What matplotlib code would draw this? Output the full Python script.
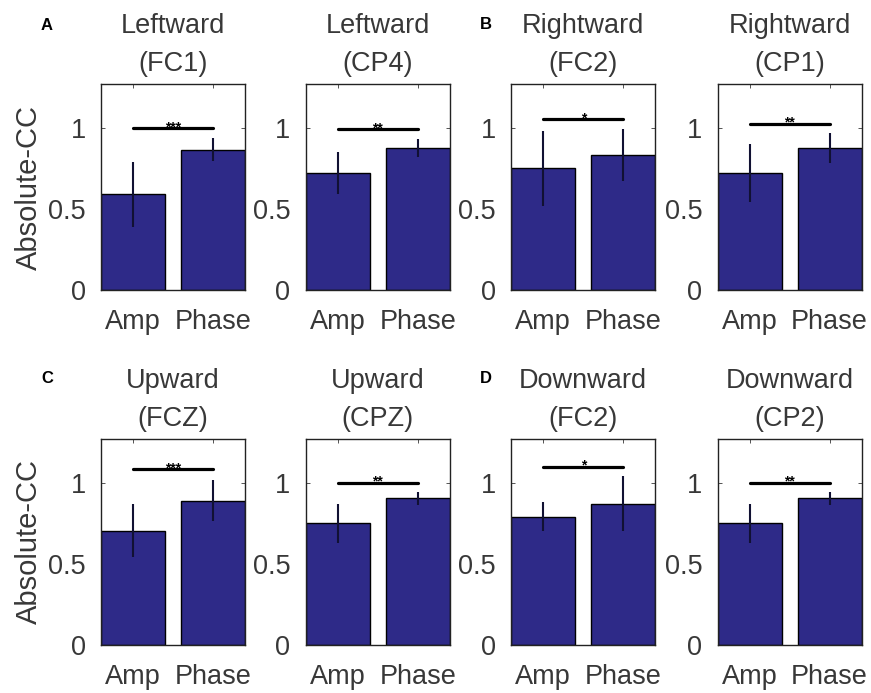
import numpy as np
import matplotlib
matplotlib.use('Agg')
import matplotlib.pyplot as plt

plt.rcParams['font.family'] = ['Liberation Sans', 'DejaVu Sans']

# --- data ---
titles = ['Leftward\n(FC1)', 'Leftward\n(CP4)', 'Rightward\n(FC2)', 'Rightward\n(CP1)',
          'Upward\n(FCZ)', 'Upward\n(CPZ)', 'Downward\n(FC2)', 'Downward\n(CP2)']
categories = ['Amp', 'Phase']
amp_mean = [0.59, 0.72, 0.75, 0.72, 0.705, 0.75, 0.79, 0.75]
amp_err = [0.20, 0.13, 0.23, 0.18, 0.165, 0.12, 0.09, 0.12]
phase_mean = [0.865, 0.875, 0.83, 0.875, 0.89, 0.905, 0.87, 0.905]
phase_err = [0.07, 0.055, 0.16, 0.09, 0.125, 0.04, 0.17, 0.04]
sig_height = [1.0, 0.99, 1.055, 1.025, 1.085, 1.0, 1.10, 1.0]
sig_stars = ['***', '**', '*', '**', '***', '**', '*', '**']
panel_letters = ['A', 'B', 'C', 'D']

bar_color = '#2e2a88'
text_color = '#383838'

fig = plt.figure(figsize=(8.71, 6.93), dpi=100)

lefts = [0.116, 0.351, 0.587, 0.824]
bottoms = [0.5815, 0.0693]
w, h = 0.1653, 0.2973

for idx in range(8):
    row, col = divmod(idx, 4)
    ax = fig.add_axes([lefts[col], bottoms[row], w, h])
    x = np.arange(1, 3)
    means = [amp_mean[idx], phase_mean[idx]]
    errs = [amp_err[idx], phase_err[idx]]
    ax.bar(x, means, width=0.8, color=bar_color, edgecolor='black', linewidth=1.0, zorder=2)
    ax.errorbar(x, means, yerr=errs, fmt='none', ecolor='#111133', elinewidth=1.5,
                capsize=0, zorder=3)
    # significance bar
    ax.plot([1, 2], [sig_height[idx]] * 2, color='black', lw=2.3, solid_capstyle='round', zorder=4)
    ax.text(1.5, sig_height[idx] + 0.005, sig_stars[idx], ha='center', va='center',
            fontsize=10, fontweight='bold', color='black', zorder=5)

    ax.set_xlim(0.6, 2.4)
    ax.set_ylim(0, 1.27)
    ax.set_xticks(x)
    ax.set_xticklabels(categories)
    ax.set_yticks([0, 0.5, 1])
    ax.set_yticklabels(['0', '0.5', '1'])
    ax.tick_params(direction='in', length=3, width=0.6, top=True, right=True,
                   labelsize=19.5, colors=text_color, labelcolor=text_color)
    ax.tick_params(axis='x', pad=14)
    ax.tick_params(axis='y', pad=11)
    for s in ax.spines.values():
        s.set_color('#222222')
        s.set_linewidth(1.0)
    ax.set_title(titles[idx], fontsize=19.5, color=text_color, linespacing=1.6, pad=9)
    if col == 0:
        ax.set_ylabel('Absolute-CC', fontsize=21, color=text_color, labelpad=4)

# panel letters
letter_pos = [(0.054, 0.9625), (0.558, 0.964), (0.054, 0.4545), (0.558, 0.4545)]
for letter, (lx, ly) in zip(panel_letters, letter_pos):
    fig.text(lx, ly, letter, fontsize=12, fontweight='bold', ha='center', va='center', color='black')

fig.savefig('out.png', dpi=100)
